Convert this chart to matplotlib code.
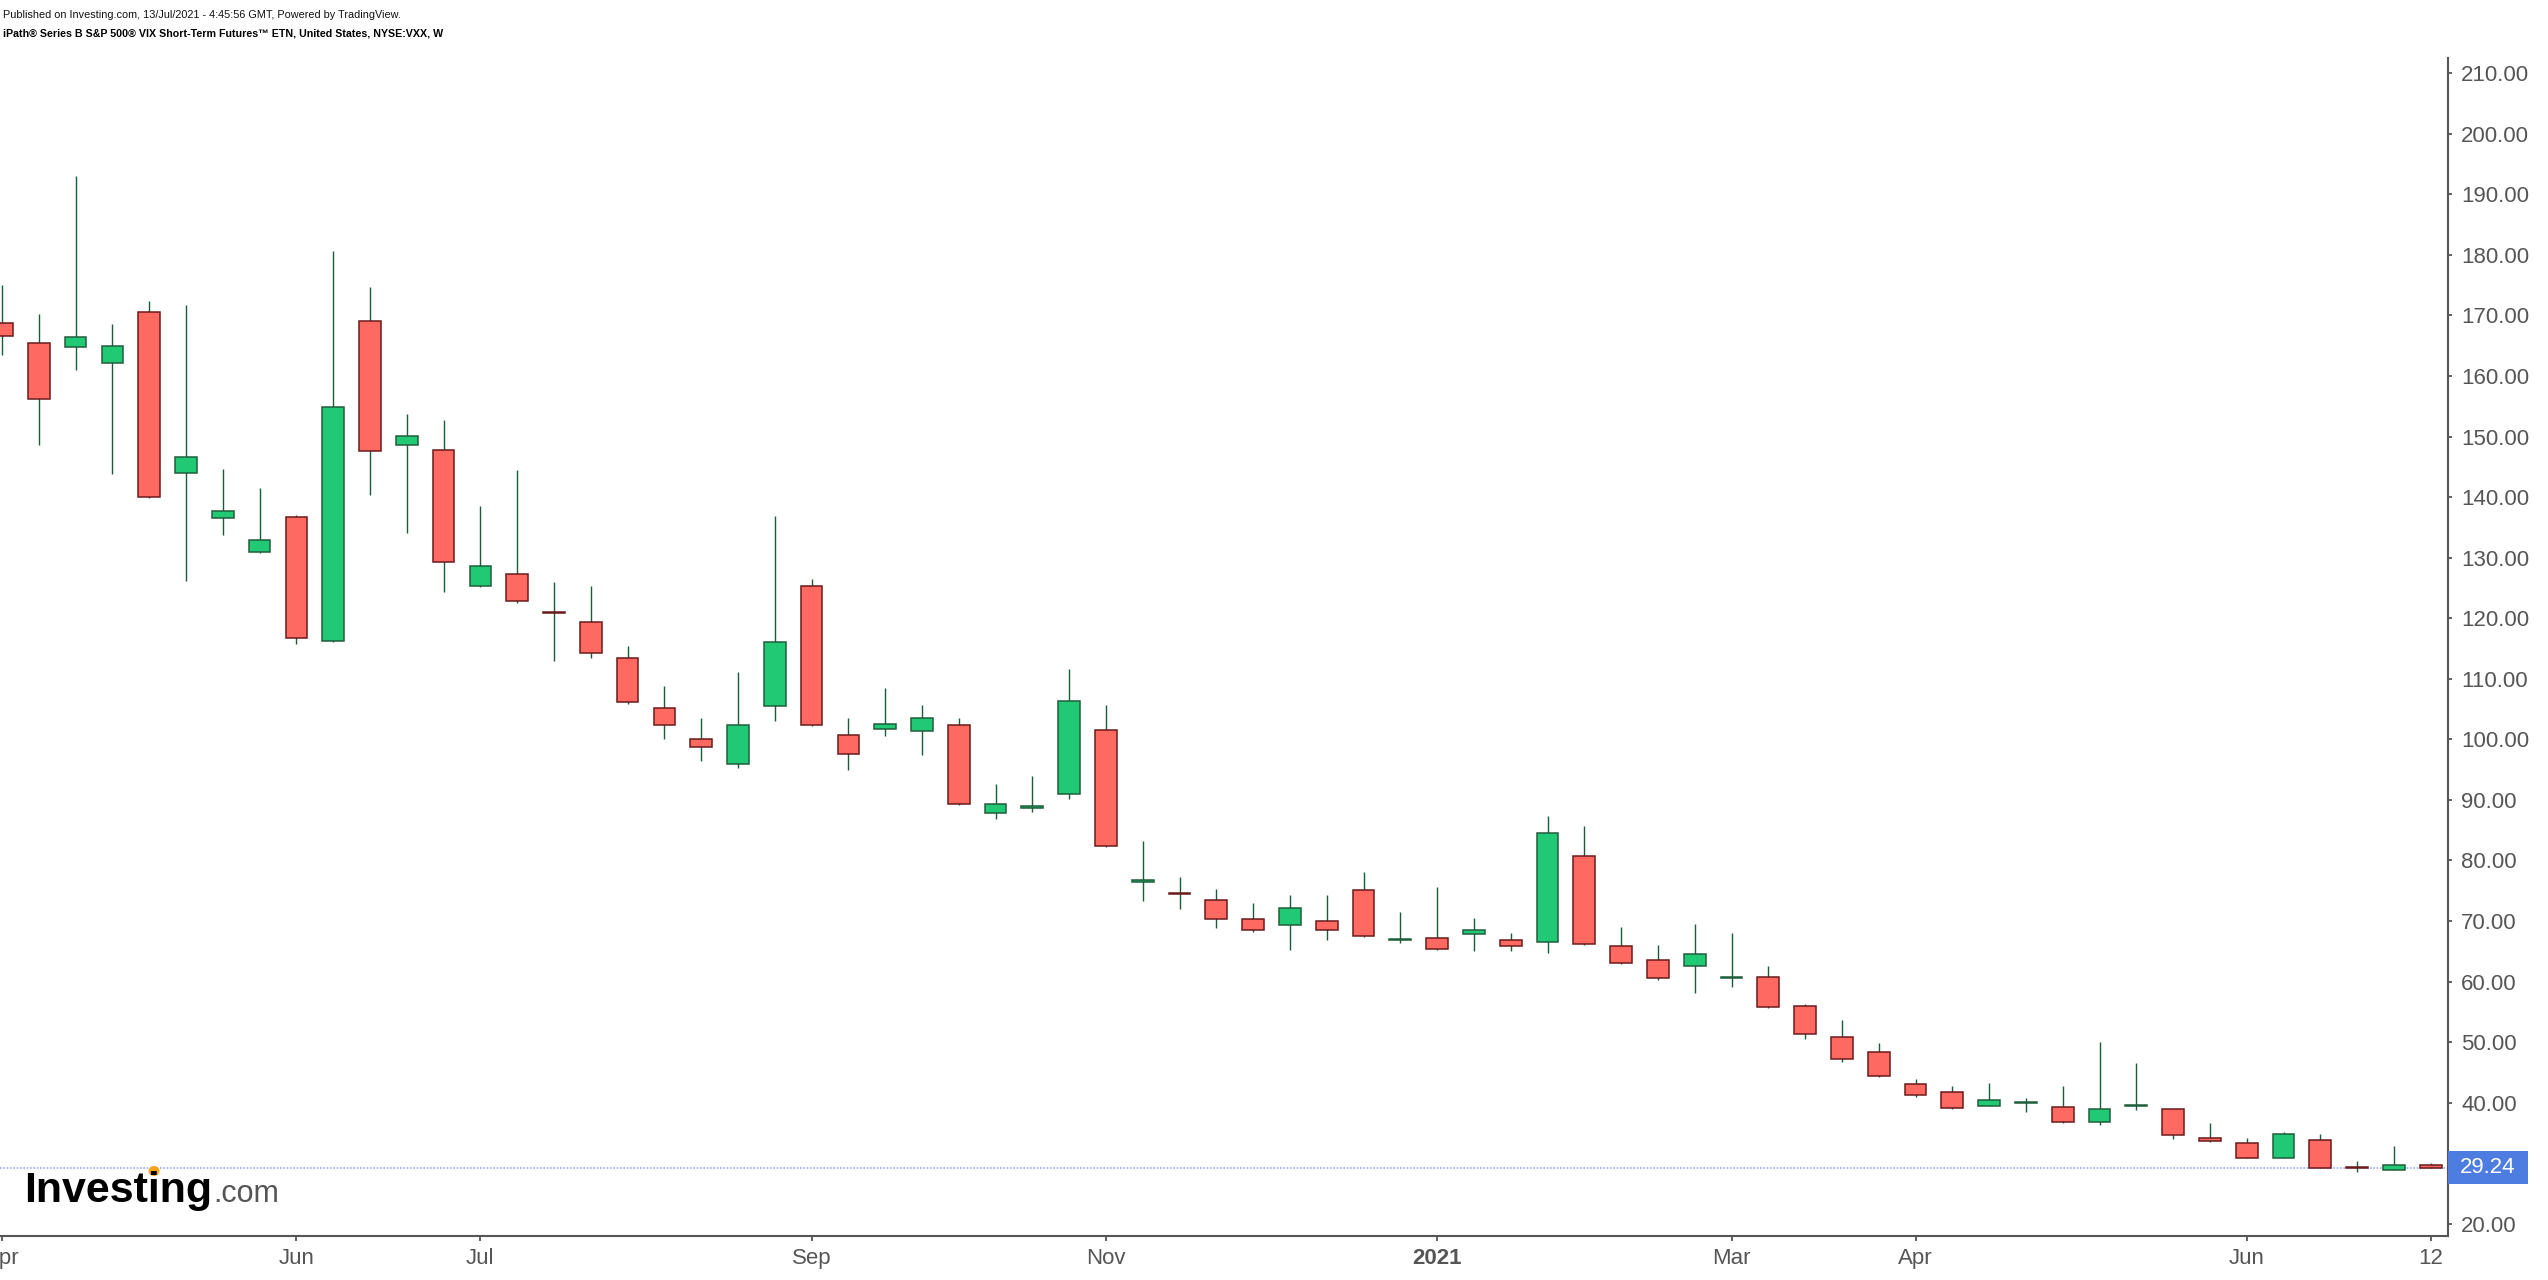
import numpy as np
import pandas as pd
import matplotlib
matplotlib.use('Agg')
import matplotlib.pyplot as plt
import matplotlib.transforms as mtransforms
from matplotlib.patches import Rectangle, Ellipse
from matplotlib.ticker import FormatStrFormatter

plt.rcParams['font.family'] = ['Liberation Sans', 'DejaVu Sans']

# weekly bars, NYSE:VXX
weeks = pd.date_range('2020-04-06', '2021-07-12', freq='W-MON')
opens = [168.8, 165.4, 164.8, 162.1, 170.5, 143.9, 136.5, 131.0, 136.7, 116.3,
         169.1, 148.6, 147.7, 125.3, 127.3, 121.1, 119.4, 113.5, 105.1, 100.0,
         96.0, 105.5, 125.3, 100.7, 101.7, 101.4, 102.4, 87.9, 88.6, 91.0,
         101.5, 76.5, 74.6, 73.5, 70.4, 69.3, 70.0, 75.2, 66.9, 67.2,
         67.9, 66.9, 66.5, 80.8, 65.9, 63.5, 62.6, 60.6, 60.7, 55.9,
         50.8, 48.4, 43.1, 41.7, 39.5, 40.0, 39.3, 36.8, 39.5, 38.9,
         34.2, 33.4, 30.9, 33.8, 29.35, 28.9, 29.8]
highs = [175.1, 170.2, 193.0, 168.6, 172.4, 171.7, 144.7, 141.5, 137.1, 180.6,
         174.7, 153.7, 152.7, 138.5, 144.4, 126.0, 125.4, 115.4, 108.8, 103.5,
         111.2, 136.8, 126.4, 103.6, 108.4, 105.7, 103.6, 92.6, 93.9, 111.6,
         105.7, 83.2, 77.3, 75.3, 72.9, 74.3, 74.3, 78.1, 71.5, 75.6,
         70.5, 68.0, 87.4, 85.7, 69.1, 66.1, 69.5, 68.0, 62.5, 56.3,
         53.6, 49.8, 43.9, 42.8, 43.2, 40.8, 42.8, 50.1, 46.6, 39.0,
         36.6, 34.2, 35.2, 34.9, 30.4, 32.8, 30.1]
lows = [163.4, 148.6, 161.0, 143.8, 139.9, 126.1, 133.7, 130.8, 115.8, 116.0,
        140.3, 134.1, 124.4, 125.1, 122.5, 113.0, 113.5, 105.8, 100.0, 96.5,
        95.2, 103.0, 102.2, 95.0, 100.6, 97.5, 89.1, 86.8, 88.0, 90.2,
        82.2, 73.3, 72.0, 68.8, 68.2, 65.3, 66.8, 67.3, 66.4, 65.3,
        65.0, 65.0, 64.7, 66.0, 62.9, 60.2, 58.1, 59.1, 55.6, 50.5,
        46.7, 44.2, 40.9, 39.0, 39.4, 38.4, 36.7, 36.4, 38.8, 34.0,
        33.6, 30.8, 30.8, 29.2, 28.5, 28.9, 29.2]
closes = [166.6, 156.2, 166.4, 165.0, 140.0, 146.7, 137.7, 132.9, 116.8, 154.9,
          147.6, 150.1, 129.3, 128.7, 122.8, 120.8, 114.2, 106.2, 102.4, 98.7,
          102.4, 116.0, 102.4, 97.6, 102.5, 103.5, 89.3, 89.4, 89.0, 106.3,
          82.4, 76.7, 74.4, 70.3, 68.5, 72.1, 68.5, 67.5, 67.1, 65.4,
          68.6, 65.8, 84.6, 66.2, 63.0, 60.6, 64.6, 60.8, 55.8, 51.3,
          47.2, 44.4, 41.3, 39.2, 40.4, 40.2, 36.8, 39.0, 39.7, 34.7,
          33.7, 30.9, 34.8, 29.2, 29.25, 29.7, 29.24]
last_price = 29.24

tick_dates = ['2020-04-06', '2020-06-01', '2020-07-06', '2020-09-07', '2020-11-02',
              '2021-01-04', '2021-03-01', '2021-04-05', '2021-06-07', '2021-07-12']
tick_labels = ['Apr', 'Jun', 'Jul', 'Sep', 'Nov', '2021', 'Mar', 'Apr', 'Jun', '12']
y_ticks = list(range(20, 211, 10))

up_fill, up_edge = '#22c974', '#1f5e3c'
dn_fill, dn_edge = '#fe6a62', '#6a1b1b'
wick_col = '#1d5a38'
axis_col = '#555555'

o = np.array(opens)
h = np.array(highs)
l = np.array(lows)
c = np.array(closes)
x = np.arange(len(weeks))
up = c >= o

W, H = 2548, 1280
fig = plt.figure(figsize=(W / 100, H / 100), dpi=100)
ax = fig.add_axes([0, 1 - 1236 / H, 2448 / W, (1236 - 58) / H])

ax.vlines(x, l, h, color=wick_col, lw=1.0, zorder=2)
ax.bar(x[up], (c - o)[up], bottom=o[up], width=0.59, color=up_fill,
       edgecolor=up_edge, linewidth=1.1, zorder=3)
ax.bar(x[~up], (c - o)[~up], bottom=o[~up], width=0.59, color=dn_fill,
       edgecolor=dn_edge, linewidth=1.1, zorder=3)

ax.axhline(last_price, color='#9aacf0', lw=1.2, ls=(0, (1, 1)), zorder=1)

ax.set_xlim(-0.054, 66.47)
ax.set_ylim(18.0, 212.5)

for s in ['top', 'left']:
    ax.spines[s].set_visible(False)
for s in ['right', 'bottom']:
    ax.spines[s].set_color(axis_col)
    ax.spines[s].set_linewidth(1.5)

ax.yaxis.tick_right()
ax.set_yticks(y_ticks)
ax.yaxis.set_major_formatter(FormatStrFormatter('%.2f'))
ax.tick_params(axis='y', length=3, width=1.3, colors=axis_col, labelsize=16, pad=6.5)

tick_pos = [weeks.get_loc(pd.Timestamp(d)) for d in tick_dates]
ax.set_xticks(tick_pos)
ax.set_xticklabels(tick_labels)
ax.tick_params(axis='x', length=3.6, width=1.3, colors=axis_col, labelsize=16, pad=5)
ax.get_xticklabels()[tick_labels.index('2021')].set_fontweight('bold')

# last price tag on the axis
tr = mtransforms.blended_transform_factory(ax.transAxes, ax.transData)
box_w = 80 / 2448
box_h = 33 / 6.058
ax.add_patch(Rectangle((1.0, last_price - box_h / 2), box_w, box_h, transform=tr,
                       facecolor='#4d7de0', edgecolor='none', clip_on=False, zorder=10))
ax.text(1.0 + box_w / 2, last_price, '%.2f' % last_price, transform=tr, color='white',
        fontsize=16, ha='center', va='center', zorder=11, clip_on=False)

# header
fig.text(3 / W, 1 - 15 / H,
         'Published on Investing.com, 13/Jul/2021 - 4:45:56 GMT, Powered by TradingView.',
         fontsize=7.85, va='center', ha='left', color='#111111')
fig.text(3 / W, 1 - 33 / H,
         'iPath® Series B S&P 500® VIX Short-Term Futures™ ETN, United States, NYSE:VXX, W',
         fontsize=7.65, va='center', ha='left', fontweight='bold', color='#000000')

# logo
fig.text(24 / W, 1 - 1202 / H, 'Investing', fontsize=31, fontweight='bold',
         color='#000000', va='baseline', ha='left')
fig.text(213 / W, 1 - 1202 / H, '.com', fontsize=22, color='#555555',
         va='baseline', ha='left')
fig.patches.append(Ellipse((154 / W, 1 - 1171 / H), 11 / W, 10 / H, transform=fig.transFigure,
                           facecolor='#f7a41d', edgecolor='none', figure=fig))

fig.savefig('out.png', dpi=100, facecolor='white')
